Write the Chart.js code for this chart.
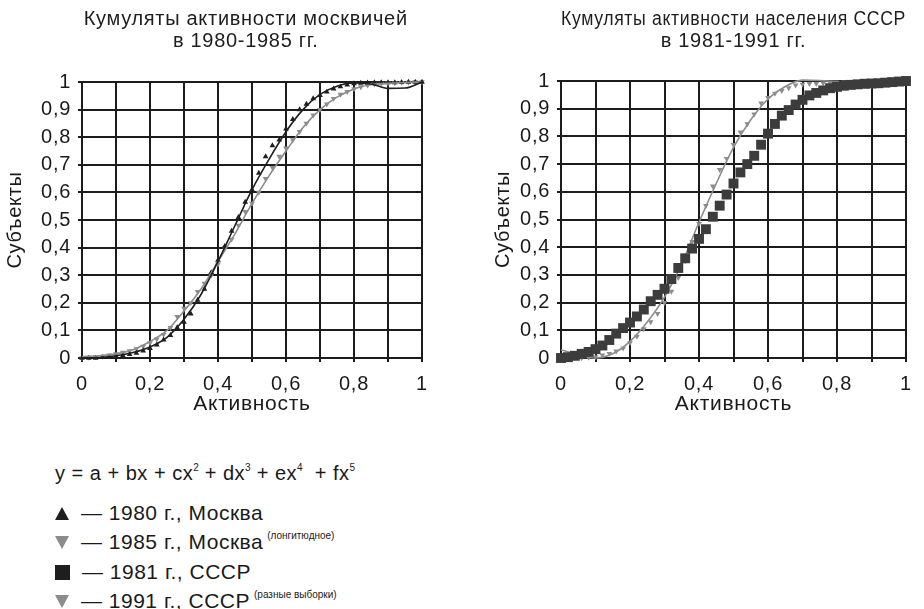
<!DOCTYPE html>
<html>
<head>
<meta charset="utf-8">
<script src="https://cdn.jsdelivr.net/npm/chart.js@4/dist/chart.umd.min.js"></script>
<style>
  body { margin:0; background:#fff; }
  #wrap { position:relative; width:924px; height:609px; font-family:"Liberation Sans", Arial, sans-serif; color:#1a1a1a; }
  canvas { position:absolute; top:0; }
  .row { position:absolute; left:55px; font-size:21px; line-height:24px; letter-spacing:0.5px; white-space:nowrap; }
  .mk { display:inline-block; width:15px; margin-right:12px; vertical-align:middle; position:relative; top:-1px; }
  .up { width:0; height:0; border-left:7.5px solid transparent; border-right:7.5px solid transparent; border-bottom:13px solid #1e1e1e; }
  .dn { width:0; height:0; border-left:7.5px solid transparent; border-right:7.5px solid transparent; border-top:13px solid #8c8c8c; }
  .sq { width:15px; height:15px; background:#1e1e1e; }
  sup { line-height:0; vertical-align:baseline; position:relative; }
  sup.s { font-size:10px; top:-10px; margin-left:4px; letter-spacing:0; }
  sup.p { font-size:10px; top:-9px; letter-spacing:0; }
</style>
</head>
<body>
<div id="wrap">
  <canvas id="c1" width="462" height="420" style="left:0"></canvas>
  <canvas id="c2" width="462" height="420" style="left:462px"></canvas>
  <div class="row" style="top:461px;font-size:20px;">y = a + bx + cx<sup class="p">2</sup> + dx<sup class="p">3</sup> + ex<sup class="p">4</sup>&nbsp; + fx<sup class="p">5</sup></div>
  <div class="row" style="top:501px;"><span class="mk up"></span>— 1980 г., Москва</div>
  <div class="row" style="top:530px;"><span class="mk dn"></span>— 1985 г., Москва<sup class="s">(лонгитюдное)</sup></div>
  <div class="row" style="top:560px;"><span class="mk sq"></span>— 1981 г., СССР</div>
  <div class="row" style="top:589px;"><span class="mk dn"></span>— 1991 г., СССР<sup class="s">(разные выборки)</sup></div>
</div>
<script>
// ---- data ----
const xMarks = [0,0.02,0.04,0.06,0.08,0.10,0.12,0.14,0.16,0.18,0.20,0.22,0.24,0.26,0.28,0.30,0.32,0.34,0.36,0.38,0.40,0.42,0.44,0.46,0.48,0.50,0.52,0.54,0.56,0.58,0.60,0.62,0.64,0.66,0.68,0.70,0.72,0.74,0.76,0.78,0.80,0.82,0.84,0.86,0.88,0.90,0.92,0.94,0.96,0.98,1.00];
const y1980 = [0,0,0,0.002,0.004,0.006,0.009,0.013,0.018,0.026,0.035,0.048,0.066,0.082,0.11,0.13,0.16,0.21,0.25,0.31,0.355,0.405,0.46,0.51,0.565,0.61,0.67,0.73,0.77,0.79,0.83,0.865,0.90,0.92,0.94,0.952,0.964,0.975,0.983,0.99,0.994,0.996,0.997,0.998,0.998,0.998,0.998,0.999,1.0,1.0,1.0];
const y1985 = [0,0.002,0.004,0.006,0.01,0.015,0.02,0.026,0.033,0.042,0.055,0.068,0.085,0.11,0.15,0.18,0.20,0.24,0.27,0.30,0.34,0.40,0.43,0.48,0.53,0.56,0.60,0.65,0.69,0.73,0.76,0.79,0.82,0.85,0.88,0.90,0.92,0.94,0.955,0.965,0.975,0.982,0.988,0.992,0.995,0.996,0.997,0.998,0.999,1.0,1.0];
const y1981 = [0,0.003,0.008,0.015,0.022,0.032,0.045,0.065,0.088,0.108,0.128,0.15,0.175,0.205,0.228,0.25,0.285,0.325,0.36,0.395,0.43,0.465,0.51,0.55,0.59,0.63,0.67,0.70,0.73,0.77,0.81,0.845,0.875,0.895,0.915,0.932,0.948,0.957,0.966,0.974,0.979,0.983,0.986,0.988,0.99,0.991,0.992,0.994,0.996,0.998,1.0];
const y1991 = [0,0,0,0,0.002,0.004,0.01,0.016,0.025,0.035,0.055,0.078,0.105,0.13,0.16,0.20,0.24,0.29,0.35,0.42,0.485,0.55,0.62,0.68,0.72,0.77,0.815,0.845,0.88,0.92,0.94,0.955,0.965,0.975,0.985,0.988,0.99,0.99,0.992,0.993,0.995,0.996,0.99,0.985,0.983,0.983,0.985,0.988,0.99,0.995,1.0];
const xFit = [0,0.05,0.10,0.15,0.20,0.25,0.30,0.35,0.40,0.45,0.50,0.55,0.60,0.65,0.70,0.75,0.80,0.85,0.90,0.95,1.00];
const fit1980 = [0,0.002,0.008,0.02,0.04,0.075,0.14,0.23,0.35,0.48,0.61,0.72,0.82,0.90,0.955,0.985,0.997,0.993,0.977,0.978,1.0];
const fit1985 = [0.005,0.008,0.015,0.03,0.06,0.10,0.17,0.25,0.35,0.45,0.56,0.66,0.75,0.835,0.90,0.945,0.975,0.99,0.995,0.998,1.0];
const fit1991 = [0.03,0.012,0.0,0.015,0.06,0.13,0.22,0.34,0.49,0.63,0.76,0.86,0.935,0.98,1.003,1.002,0.998,0.99,0.985,0.988,1.0];
const xTickLabels = ['0','0,2','0,4','0,6','0,8','1'];
const yTickLabels = ['0','0,1','0,2','0,3','0,4','0,5','0,6','0,7','0,8','0,9','1'];
const titles1 = ['Кумуляты активности москвичей  ','в 1980-1985 гг.  '];
const titles2 = ['Кумуляты активности населения СССР','в 1981-1991 гг.'];
const xTitle = 'Активность';
const yTitle = 'Субъекты';

// ---- helpers ----
const BLACK = '#1e1e1e', GRAY = '#8c8c8c', DARK = '#3c3c3c', GRID = '#1c1c1c';
const FONT = '"Liberation Sans", Arial, sans-serif';
Chart.defaults.font.family = FONT;
Chart.defaults.color = '#1a1a1a';

const spacing = { id: 'spacing', beforeDraw(chart) { chart.ctx.letterSpacing = '0.7px'; } };

function pts(xs, ys) { return xs.map((x, i) => ({x: x, y: ys[i]})); }

function markerSet(label, ys, color, style, radius, rot) {
  return { label, data: pts(xMarks, ys), showLine: false, pointStyle: style,
    pointRadius: radius, pointRotation: rot || 0, backgroundColor: color, borderColor: color,
    pointBorderWidth: 0, clip: 8 };
}
function fitSet(label, ys, color, w) {
  return { label, data: pts(xFit, ys), showLine: true, pointRadius: 0, borderColor: color,
    borderWidth: w, cubicInterpolationMode: 'monotone', fill: false, clip: 3 };
}

function makeChart(id, title, datasets, yAxisW, yTitlePad, padRight, titleBottom) {
  return new Chart(document.getElementById(id), {
    type: 'scatter',
    data: { datasets },
    plugins: [spacing],
    options: {
      responsive: false, animation: false, devicePixelRatio: 1,
      layout: { padding: { left: 0, top: 0, right: padRight, bottom: 0 } },
      plugins: {
        legend: { display: false }, tooltip: { enabled: false },
        title: { display: true, text: title, fullSize: false, color: '#1e1e1e',
          font: { size: 20, weight: 'normal', lineHeight: 22/20 },
          padding: { top: 8, bottom: titleBottom } }
      },
      scales: {
        x: {
          type: 'linear', min: 0, max: 1,
          afterFit: s => { s.height = 62; },
          ticks: { stepSize: 0.1, autoSkip: false, maxRotation: 0, padding: 10,
            font: { size: 20 }, color: '#1a1a1a',
            callback: (v) => { const k = Math.round(v * 10); return k % 2 === 0 ? xTickLabels[k / 2] : ''; } },
          grid: { color: GRID, lineWidth: 2, tickLength: 4 },
          border: { color: GRID, width: 2 },
          title: { display: true, text: xTitle, font: { size: 21 }, color: '#1a1a1a', padding: { top: 0, bottom: 3 } }
        },
        y: {
          type: 'linear', min: 0, max: 1,
          afterFit: s => { s.width = yAxisW; },
          ticks: { stepSize: 0.1, autoSkip: false, padding: 7, font: { size: 20 }, color: '#1a1a1a',
            callback: (v) => yTickLabels[Math.round(v * 10)] },
          grid: { color: GRID, lineWidth: 2, tickLength: 4 },
          border: { color: GRID, width: 2 },
          title: { display: true, text: yTitle, font: { size: 20 }, color: '#1a1a1a', padding: { top: yTitlePad, bottom: 0 } }
        }
      }
    }
  });
}

makeChart('c1', titles1, [
  fitSet('fit 1980', fit1980, BLACK, 1.6),
  fitSet('fit 1985', fit1985, GRAY, 1.6),
  markerSet('1980 г., Москва', y1980, BLACK, 'triangle', 3.3, 0),
  markerSet('1985 г., Москва', y1985, GRAY, 'triangle', 3.3, 180)
], 82, 3, 40, 30);

makeChart('c2', titles2, [
  markerSet('1981 г., СССР', y1981, DARK, 'rect', 7, 0),
  fitSet('fit 1991', fit1991, GRAY, 1.6),
  markerSet('1991 г., СССР', y1991, GRAY, 'triangle', 3.3, 180)
], 99, 29, 18, 29);
</script>
</body>
</html>
